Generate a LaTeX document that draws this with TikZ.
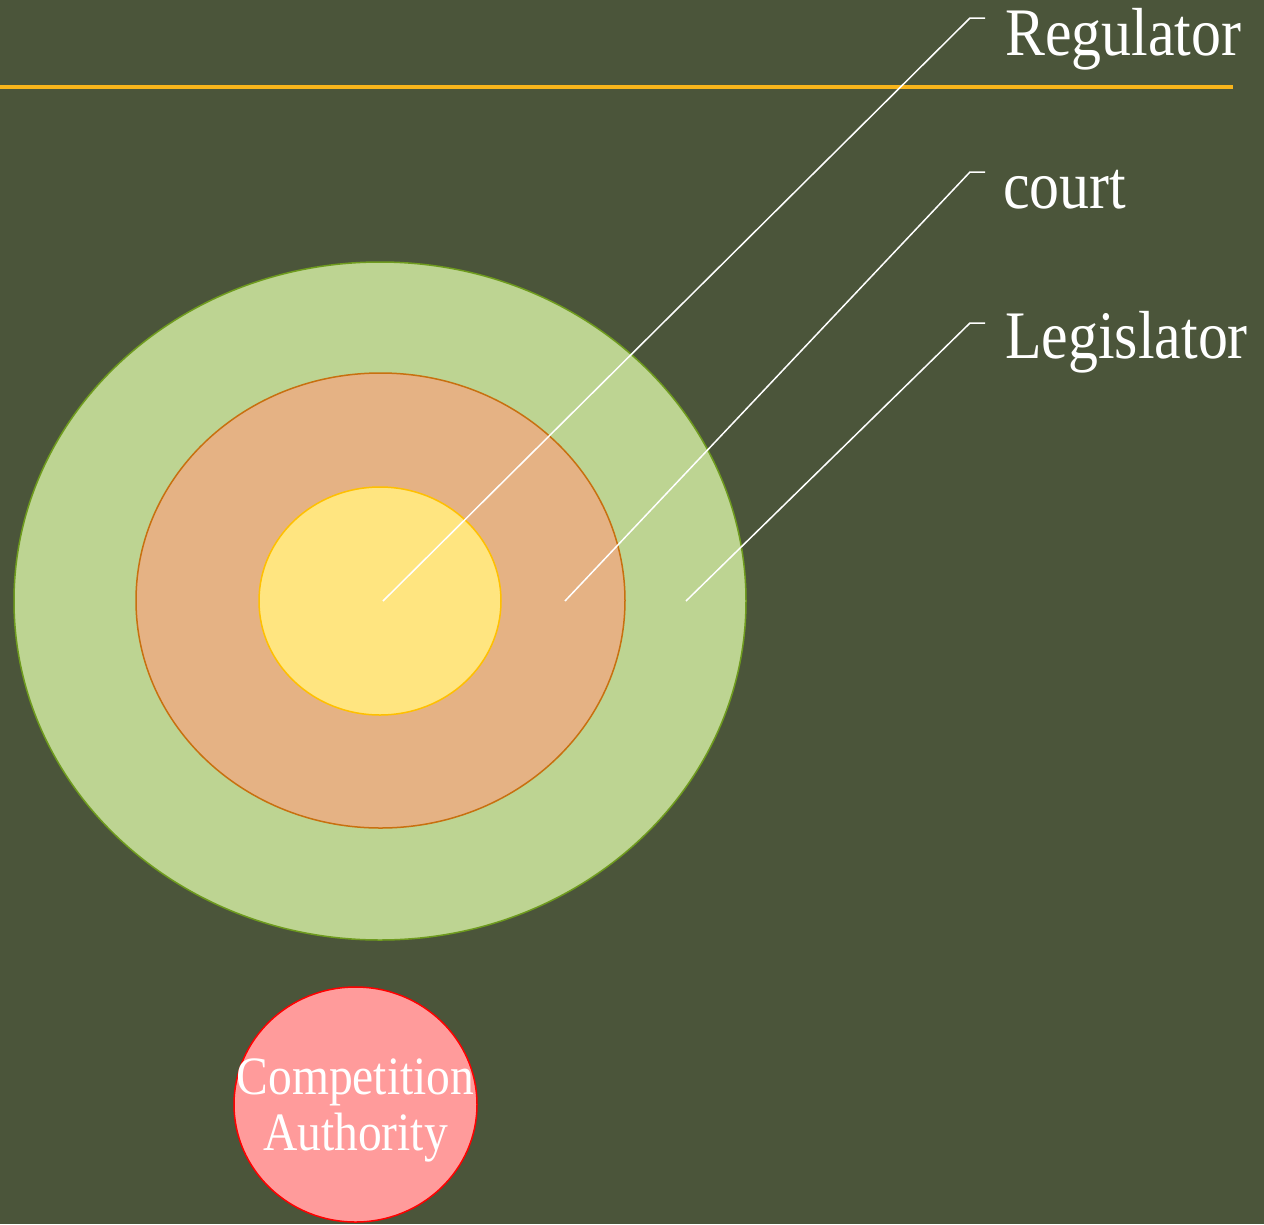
\documentclass[tikz,border=0pt]{standalone}
\usepackage{fontspec}
\setmainfont[FakeStretch=0.88]{Liberation Serif}
\usepackage{tikz}
\usetikzlibrary{shapes.geometric}

\definecolor{bgolive}{RGB}{75,85,58}
\definecolor{barline}{RGB}{248,181,27}
\definecolor{greenfill}{RGB}{189,212,146}
\definecolor{greenedge}{RGB}{110,155,30}
\definecolor{orangefill}{RGB}{229,178,132}
\definecolor{orangeedge}{RGB}{200,112,15}
\definecolor{yellowfill}{RGB}{255,229,128}
\definecolor{yellowedge}{RGB}{255,192,0}
\definecolor{redfill}{RGB}{255,155,155}

\tikzset{
	ring/.style={ellipse, inner sep=0pt, line width=1.5pt},
	lbl/.style={anchor=base west, inner sep=0pt, text=white, font=\fontsize{68}{70}\selectfont},
	leader/.style={draw=white, line width=1.5pt}
}

\begin{document}
\begin{tikzpicture}[x=1pt,y=-1pt]
	\fill[bgolive] (0,0) rectangle (1264,1224);
	\useasboundingbox (0,0) rectangle (1264,1224);
	
	\draw[barline, line width=4pt] (0,87) -- (1233,87);
	
	\node[ring, draw=greenedge, fill=greenfill, minimum width=732pt, minimum height=678pt] (legislatorRing) at (380,601) {};
	\node[ring, draw=orangeedge, fill=orangefill, minimum width=489pt, minimum height=455pt] (courtRing) at (380.5,600.5) {};
	\node[ring, draw=yellowedge, fill=yellowfill, minimum width=242pt, minimum height=228pt] (regulatorRing) at (380,601) {};
	
	\node[ring, draw=red, fill=redfill, minimum width=243pt, minimum height=235pt] (compAuth) at (355.5,1104.5) {};
	\node[text=white, align=center, inner sep=0pt, font=\fontsize{54}{56}\selectfont] (compText) at (355.5,1110) {Competition\\Authority};
	
	\node[lbl] (regulator) at (1005,55) {Regulator};
	\node[lbl] (court) at (1003,208) {court};
	\node[lbl] (legislator) at (1005,358) {Legislator};
	
	\coordinate (pReg) at (383,601);
	\coordinate (kReg) at (970,18);
	\coordinate (eReg) at (985,18);
	\coordinate (pCourt) at (565,601);
	\coordinate (kCourt) at (970,172);
	\coordinate (eCourt) at (985,172);
	\coordinate (pLeg) at (686,601);
	\coordinate (kLeg) at (970,323);
	\coordinate (eLeg) at (985,323);
	
	\draw[leader] (pReg) -- (kReg) -- (eReg);
	\draw[leader] (pCourt) -- (kCourt) -- (eCourt);
	\draw[leader] (pLeg) -- (kLeg) -- (eLeg);
\end{tikzpicture}
\end{document}
